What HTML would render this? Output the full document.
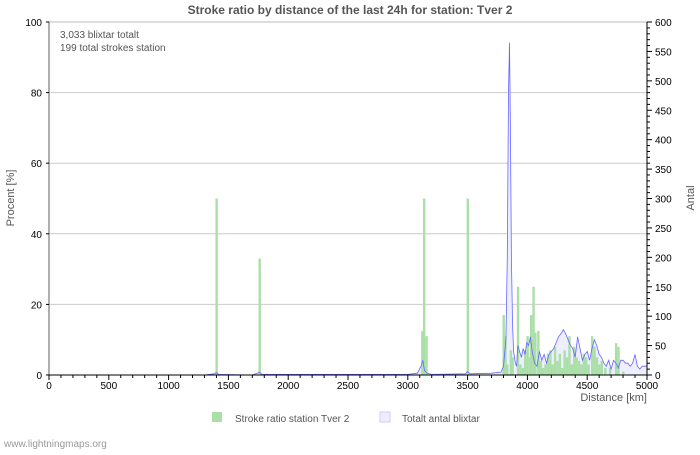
<!DOCTYPE html><html><head><style>body{margin:0;background:#fff;font-family:"Liberation Sans",sans-serif}</style></head><body>
<svg id="s" width="700" height="450" xmlns="http://www.w3.org/2000/svg" font-family="Liberation Sans, sans-serif">
<rect width="700" height="450" fill="#fff"/>
<text x="350" y="14" font-size="12" font-weight="bold" fill="#555" text-anchor="middle">Stroke ratio by distance of the last 24h for station: Tver 2</text>
<rect x="49" y="22" width="598" height="353" fill="none" stroke="#bbb"/>
<g stroke="#ccc"><line x1="49" x2="647" y1="304.4" y2="304.4"/><line x1="49" x2="647" y1="233.8" y2="233.8"/><line x1="49" x2="647" y1="163.2" y2="163.2"/><line x1="49" x2="647" y1="92.6" y2="92.6"/></g>
<g id="d"></g>
<line x1="49" x2="647" y1="375" y2="375" stroke="#000"/>
<line x1="49" x2="49" y1="22" y2="375" stroke="#000" stroke-width="0.5"/>
<line x1="647" x2="647" y1="22" y2="375" stroke="#000"/>
<g id="t" font-size="10" fill="#000"></g>
<text x="60" y="38" font-size="10" fill="#555">3,033 blixtar totalt</text>
<text x="60" y="51" font-size="10" fill="#555">199 total strokes station</text>
<text x="14" y="198" font-size="11" fill="#555" text-anchor="middle" transform="rotate(-90 14 198)">Procent   [%]</text>
<text x="694" y="198" font-size="11" fill="#555" text-anchor="middle" transform="rotate(-90 694 198)">Antal</text>
<text x="647" y="401" font-size="11" fill="#555" text-anchor="end">Distance   [km]</text>
<rect x="212" y="412" width="10" height="10" fill="#aadfa8"/>
<text x="235" y="422" font-size="10" fill="#555">Stroke ratio station Tver 2</text>
<rect x="380" y="412" width="10" height="10" fill="#eeeeff" stroke="#ccf"/>
<text x="402" y="422" font-size="10" fill="#555">Totalt antal blixtar</text>
<text x="4" y="447" font-size="10" fill="#999">www.lightningmaps.org</text>
</svg>
<script>
var NS="http://www.w3.org/2000/svg",d=document.getElementById('d'),t=document.getElementById('t');
function X(k){return 49+k*598/5000}
function el(n,a,p){var e=document.createElementNS(NS,n);for(var k in a)e.setAttribute(k,a[k]);(p||d).appendChild(e);return e}
for(var k=0;k<=5000;k+=100){el('line',{x1:X(k),x2:X(k),y1:375,y2:k%500?378:380,stroke:'#000','stroke-width':1},t);}
for(var k=0;k<=5000;k+=500){var e=el('text',{x:X(k),y:389,'text-anchor':'middle'},t);e.textContent=k;}
for(var p=0;p<=100;p+=20){var y=375-p*3.53;var e=el('text',{x:42,y:y+4,'text-anchor':'end'},t);e.textContent=p;el('line',{x1:46,x2:49,y1:y,y2:y,stroke:'#000'},t);}
for(var a=0;a<=600;a+=10){var y=375-a*0.5883;el('line',{x1:647,x2:a%50?650:652,y1:y,y2:y,stroke:'#000'},t);if(a%50==0){var e=el('text',{x:655,y:y+4},t);e.textContent=a;}}
var pts=[[0,0],[1300,0],[1380,2],[1400,4],[1420,1],[1700,0],[1740,3],[1760,5],[1780,1],[3000,1],[3080,3],[3110,15],[3125,25],[3140,8],[3160,3],[3200,1],[3480,2],[3500,6],[3520,2],[3700,3],[3780,5],[3800,15],[3820,60],[3832,200],[3842,480],[3850,565],[3858,420],[3866,200],[3875,90],[3885,40],[3900,20],[3910,15],[3920,50],[3935,40],[3950,30],[3965,45],[3980,35],[3995,55],[4010,50],[4025,65],[4040,40],[4060,20],[4080,15],[4100,40],[4120,25],[4140,35],[4160,20],[4180,35],[4200,40],[4220,45],[4240,55],[4260,65],[4280,70],[4300,77],[4320,70],[4340,60],[4360,50],[4380,45],[4400,30],[4420,65],[4440,45],[4460,25],[4480,35],[4500,40],[4520,25],[4540,45],[4560,60],[4580,50],[4600,35],[4620,30],[4640,20],[4660,15],[4680,25],[4700,10],[4720,25],[4740,20],[4760,12],[4780,25],[4800,25],[4820,20],[4840,20],[4860,15],[4880,20],[4900,35],[4920,15],[4940,10],[4960,15],[4980,15],[5000,15]];
var s='M'+X(0)+',375 ';pts.forEach(function(p){s+='L'+X(p[0]).toFixed(1)+','+(375-p[1]*0.5883).toFixed(1)+' '});
el('path',{d:s+'L'+X(5000)+',375Z',fill:'#eeeeff'});
var bars=[[1400,50],[1760,33],[3120,12.5],[3135,50],[3155,11],[3500,50],[3800,17],[3815,11],[3830,3],[3860,7],[3875,5],[3920,25],[3940,3],[3960,2],[3980,7],[4000,11],[4020,5],[4030,17],[4050,25],[4065,12],[4090,12.5],[4110,4],[4130,2],[4150,3],[4170,6],[4190,7],[4210,3],[4230,8],[4250,4],[4270,6],[4290,2],[4310,7],[4330,5],[4350,11],[4370,3],[4390,8],[4410,5],[4430,4],[4450,3],[4470,6],[4490,5],[4510,3],[4540,11],[4560,8],[4580,5],[4600,3],[4620,4],[4650,2],[4690,2],[4740,9],[4760,8],[4800,1]];
bars.forEach(function(b){var h=b[1]*3.53;el('rect',{x:X(b[0])-1,y:375-h,width:2.4,height:h,fill:'#aadfa8'})});
s='';pts.forEach(function(p,i){s+=(i?'L':'M')+X(p[0]).toFixed(1)+','+(375-p[1]*0.5883).toFixed(1)+' '});
el('path',{d:s,fill:'none',stroke:'#6666ff','stroke-width':0.8});
</script>
</body></html>
